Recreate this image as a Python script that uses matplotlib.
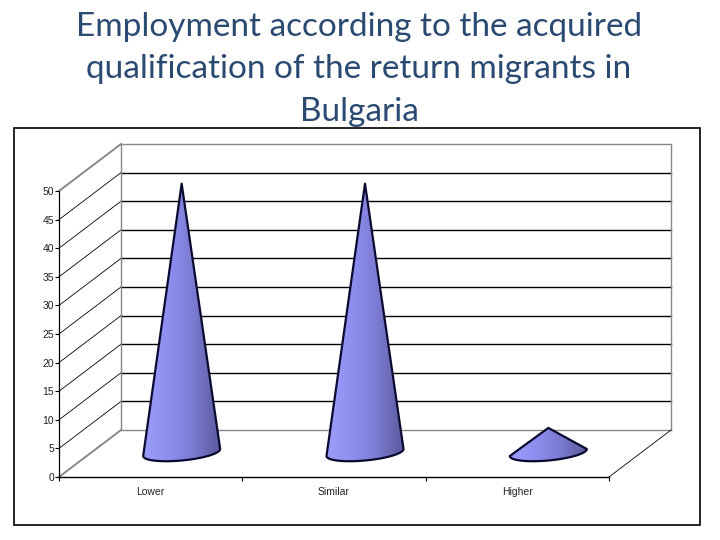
import numpy as np
import matplotlib
matplotlib.use('Agg')
import matplotlib.pyplot as plt
from matplotlib.patches import Rectangle, Polygon
from matplotlib.colors import LinearSegmentedColormap

# Data
categories = ['Lower', 'Similar', 'Higher']
values = [47, 47, 4.3]
yticks = [0, 5, 10, 15, 20, 25, 30, 35, 40, 45, 50]
title_lines = ['Employment according to the acquired',
               'qualification of the return migrants in',
               'Bulgaria']

W, H = 720, 540
fig = plt.figure(figsize=(W / 100, H / 100), dpi=100)
fig.patches.append(Rectangle((14 / W, 1 - 525 / H), 686 / W, 397 / H, transform=fig.transFigure,
                             fill=False, ec='black', lw=1.2))
for line, y in zip(title_lines, [27, 69, 112]):
    fig.text(359 / W, 1 - y / H, line, ha='center', va='center', fontsize=24, family='Lato',
             color='#2a4a72')

# front plane of the 3d box is the real axes
ax = fig.add_axes([59 / W, 1 - 477 / H, 550 / W, 286 / H])
ax.set_xlim(0, 3)
ax.set_ylim(0, 50)
for s in ['top', 'right']:
    ax.spines[s].set_visible(False)
ax.spines['left'].set_linewidth(0.9)
ax.spines['bottom'].set_linewidth(1.0)

# depth of the box, in data units
dx = 62 / 550 * 3
dy = 47 / 286 * 50

for v in yticks:
    edge = v in (0, 50)
    ax.plot([0, dx], [v, v + dy], color='#888888' if edge else 'black', lw=1.4 if edge else 0.6,
            clip_on=False, zorder=1)
    ax.plot([dx, 3 + dx], [v + dy, v + dy], color='#888888' if edge else 'black', lw=1.0,
            clip_on=False, zorder=1)
ax.plot([dx, dx], [dy, 50 + dy], color='#888888', lw=1.0, clip_on=False, zorder=1)
ax.plot([3 + dx, 3 + dx], [dy, 50 + dy], color='#888888', lw=1.0, clip_on=False, zorder=1)
ax.plot([3, 3 + dx], [0, dy], color='black', lw=0.6, clip_on=False, zorder=1)

# cones
cmap = LinearSegmentedColormap.from_list('cone', ['#9c9cfa', '#8e8ef0', '#7a7ad0', '#5a5a9c'])
half_w = 38.5 / 550 * 3
semi = 8 / 286 * 50
tilt = 3.5 / 286 * 50
base = (477 - 452.5) / 286 * 50
t = np.linspace(np.pi, 2 * np.pi, 60)
for i, val in enumerate(values):
    cx = i + 0.5 + dx / 2
    apex = base + val
    xs = cx + half_w * np.cos(t)
    ys = base + semi * np.sin(t) + tilt * np.cos(t)
    pts = np.column_stack([np.r_[cx, xs], np.r_[apex, ys]])
    poly = Polygon(pts, closed=True, transform=ax.transData, fc='none', ec='#0a0a30', lw=1.6,
                   zorder=4, clip_on=False, joinstyle='round')
    grad = np.linspace(0, 1, 128).reshape(1, -1)
    im = ax.imshow(grad, extent=[cx - half_w, cx + half_w, 0, apex + 1], aspect='auto', cmap=cmap,
                   origin='lower', zorder=3)
    ax.add_patch(poly)
    im.set_clip_path(poly)

ax.set_xlim(0, 3)
ax.set_ylim(0, 50)

ax.set_yticks(yticks)
ax.set_xticks([0, 1, 2, 3])
ax.set_xticklabels([])
ax.set_xticks([0.5, 1.5, 2.5], minor=True)
ax.set_xticklabels(categories, minor=True, fontsize=7.5, family='Liberation Sans', color='#222222')
ax.tick_params(axis='x', which='minor', length=0, pad=7)
ax.tick_params(axis='x', which='major', length=3, width=0.8, direction='out')
ax.tick_params(axis='y', length=3, width=0.8, labelsize=7.5, pad=0.5, labelcolor='#222222')
for lb in ax.get_yticklabels():
    lb.set_family('Liberation Sans')
ax.patch.set_visible(False)

fig.savefig('out.png', dpi=100)
